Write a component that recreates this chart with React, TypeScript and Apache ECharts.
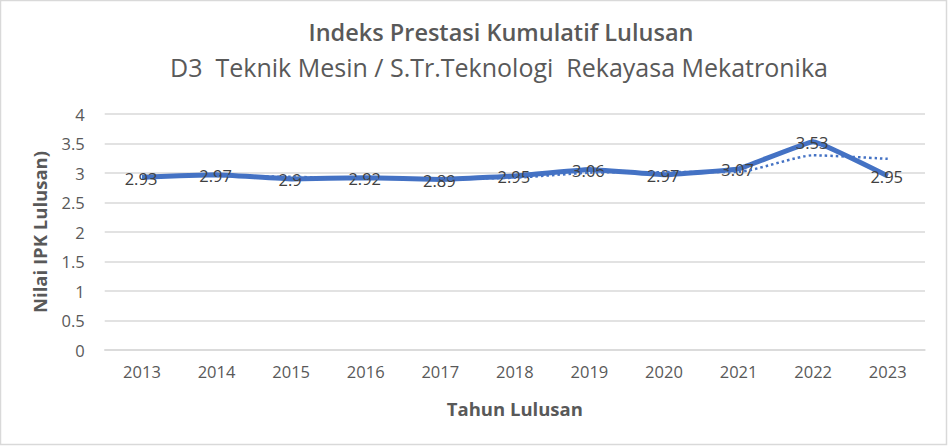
import React, { useEffect, useRef } from "react";
import * as echarts from "echarts";

const years = ["2013", "2014", "2015", "2016", "2017", "2018", "2019", "2020", "2021", "2022", "2023"];
const ipk = [2.93, 2.97, 2.9, 2.92, 2.89, 2.95, 3.06, 2.97, 3.07, 3.53, 2.95];
// 2-period moving average trendline (starts at 2014)
const trend = [null, 2.95, 2.935, 2.91, 2.905, 2.92, 3.005, 3.015, 3.02, 3.3, 3.24];

const titleText = "Indeks Prestasi Kumulatif Lulusan";
const subtitleText = "D3  Teknik Mesin / S.Tr.Teknologi  Rekayasa Mekatronika";
const yName = "Nilai IPK Lulusan)";
const xName = "Tahun Lulusan";

const FONT = "'Open Sans', 'Liberation Sans', sans-serif";

export default function App() {
  const ref = useRef<HTMLDivElement>(null);
  useEffect(() => {
    if (!ref.current) return;
    const chart = echarts.init(ref.current, null, { renderer: "svg" });
    chart.setOption({
      animation: false,
      backgroundColor: "#ffffff",
      textStyle: { fontFamily: FONT },
      graphic: [
        {
          type: "rect",
          shape: { x: 0.5, y: 0.5, width: 946, height: 444 },
          style: { fill: "none", stroke: "#d9d9d9", lineWidth: 1.5 },
          silent: true,
        },
      ],
      title: [
        {
          text: titleText,
          left: 496,
          top: 15,
          textAlign: "center",
          textStyle: { fontFamily: FONT, fontSize: 23.5, fontWeight: 600, color: "#595959" },
        },
        {
          text: subtitleText,
          left: 494,
          top: 49,
          textAlign: "center",
          textStyle: { fontFamily: FONT, fontSize: 25, fontWeight: "normal", color: "#595959" },
        },
      ],
      grid: { left: 104.7, right: 24, top: 114, bottom: 96, containLabel: false },
      xAxis: {
        type: "category",
        data: years,
        boundaryGap: true,
        name: xName,
        nameLocation: "middle",
        nameGap: 49,
        nameTextStyle: { fontFamily: FONT, fontSize: 18.5, fontWeight: "bold", color: "#595959" },
        axisLine: { show: true, lineStyle: { color: "#d9d9d9", width: 1.5 } },
        axisTick: { show: false },
        axisLabel: { fontFamily: FONT, fontSize: 16.5, color: "#595959", margin: 13 },
        splitLine: { show: false },
      },
      yAxis: {
        type: "value",
        min: 0,
        max: 4,
        interval: 0.5,
        name: yName,
        nameLocation: "middle",
        nameRotate: 90,
        nameGap: 56,
        nameTextStyle: { fontFamily: FONT, fontSize: 18.5, fontWeight: "bold", color: "#595959" },
        axisLine: { show: false },
        axisTick: { show: false },
        axisLabel: { fontFamily: FONT, fontSize: 16.5, color: "#595959", margin: 20 },
        splitLine: { show: true, lineStyle: { color: "#d9d9d9", width: 1.5 } },
      },
      series: [
        {
          name: "IPK",
          type: "line",
          data: ipk,
          symbol: "circle",
          symbolSize: 1,
          showSymbol: true,
          itemStyle: { color: "#4472C4", opacity: 0 },
          lineStyle: { color: "#4472C4", width: 5 },
          smooth: 0.08,
          z: 2,
          label: {
            show: true,
            position: "inside",
            offset: [-1, 1],
            fontFamily: FONT,
            fontSize: 16.5,
            color: "#404040",
            opacity: 1,
            formatter: (p: any) => String(p.value),
          },
        },
        {
          name: "Trend",
          type: "line",
          data: trend,
          symbol: "none",
          connectNulls: false,
          lineStyle: { color: "#4472C4", width: 2.5, type: [2.5, 3] },
          smooth: 0.2,
          z: 3,
          silent: true,
        },
      ],
    });
    return () => chart.dispose();
  }, []);
  return (
    <div
      ref={ref}
      style={{ position: "fixed", left: 0, top: 0, width: 949, height: 446 }}
    />
  );
}
